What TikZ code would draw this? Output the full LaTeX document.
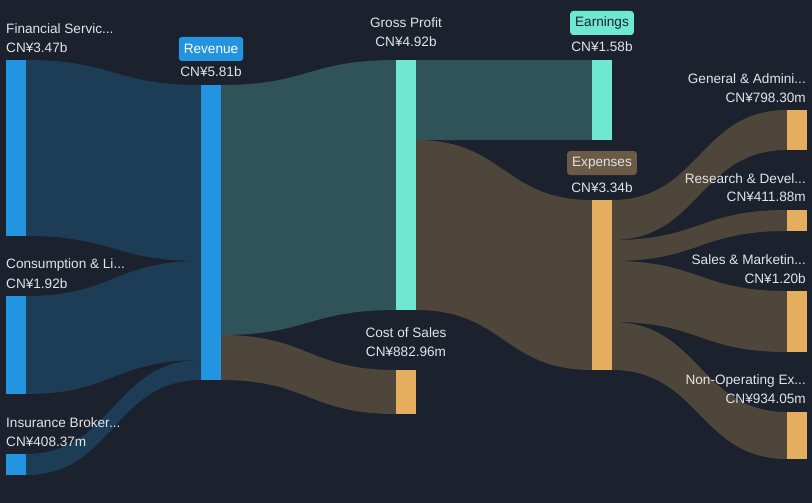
\documentclass[tikz,border=0pt]{standalone}
\usepackage{fontspec}
\setmainfont{Liberation Sans}
\definecolor{bg}{HTML}{1B212D}
\definecolor{barblue}{HTML}{2394DF}
\definecolor{barteal}{HTML}{6FE8D3}
\definecolor{barorange}{HTML}{E5AE5F}
\definecolor{flowblue}{HTML}{1D3D57}
\definecolor{flowteal}{HTML}{30535A}
\definecolor{flowbrown}{HTML}{4E463B}
\definecolor{boxbrown}{HTML}{6B5A45}
\definecolor{txt}{HTML}{E2E4E8}
% one band of the sankey: colour, x1, top1, bottom1, x2, top2, bottom2
\newcommand{\flow}[7]{\fill[#1] (#2,#3) .. controls ({(#2+#5)/2},#3) and ({(#2+#5)/2},#6) .. (#5,#6)
  -- (#5,#7) .. controls ({(#2+#5)/2},#7) and ({(#2+#5)/2},#4) .. (#2,#4) -- cycle;}
\tikzset{
  bar/.style={inner sep=0, outer sep=0, minimum width=20pt},
  lbl/.style={text=txt, inner sep=0, font=\fontsize{13.6}{16}\selectfont},
  tag/.style={rounded corners=3pt, inner xsep=5pt, minimum height=24pt, font=\fontsize{13.6}{16}\selectfont},
}
\begin{document}
\begin{tikzpicture}[x=1pt, y=-1pt]
  \fill[bg] (0,0) rectangle (812,503);
  \useasboundingbox (0,0) rectangle (812,503);
  % bands
  \flow{flowblue}{26}{60}{236}{201}{85}{261}
  \flow{flowblue}{26}{296}{394}{201}{261}{360}
  \flow{flowblue}{26}{454}{475}{201}{360}{380}
  \flow{flowteal}{221}{85}{335}{396}{60}{310}
  \flow{flowbrown}{221}{335}{380}{396}{370}{414}
  \flow{flowteal}{416}{60}{140}{592}{60}{140}
  \flow{flowbrown}{416}{140}{310}{592}{200}{370}
  \flow{flowbrown}{612}{200}{240}{787}{110}{150}
  \flow{flowbrown}{612}{240}{261}{787}{210}{231}
  \flow{flowbrown}{612}{261}{322}{787}{291}{352}
  \flow{flowbrown}{612}{322}{370}{787}{412}{459}
  % bars
  \node[bar, fill=barblue, minimum height=176pt] (fin) at (16,148) {};
  \node[bar, fill=barblue, minimum height=98pt] (cons) at (16,345) {};
  \node[bar, fill=barblue, minimum height=21pt] (ins) at (16,464.5) {};
  \node[bar, fill=barblue, minimum height=295pt] (rev) at (211,232.5) {};
  \node[bar, fill=barteal, minimum height=250pt] (gp) at (406,185) {};
  \node[bar, fill=barorange, minimum height=44pt] (cos) at (406,392) {};
  \node[bar, fill=barteal, minimum height=80pt] (earn) at (602,100) {};
  \node[bar, fill=barorange, minimum height=170pt] (exp) at (602,285) {};
  \node[bar, fill=barorange, minimum height=40pt] (ga) at (797,130) {};
  \node[bar, fill=barorange, minimum height=21pt] (rd) at (797,220.5) {};
  \node[bar, fill=barorange, minimum height=61pt] (sm) at (797,321.5) {};
  \node[bar, fill=barorange, minimum height=47pt] (nonop) at (797,435.5) {};
  % labels
  \node[lbl, anchor=west] (finname) at (6,29) {Financial Servic...};
  \node[lbl, anchor=west] (finval) at (6,48) {CN¥3.47b};
  \node[lbl, anchor=west] (consname) at (6,265) {Consumption \& Li...};
  \node[lbl, anchor=west] (consval) at (6,284) {CN¥1.92b};
  \node[lbl, anchor=west] (insname) at (6,423) {Insurance Broker...};
  \node[lbl, anchor=west] (insval) at (6,442) {CN¥408.37m};
  \node[tag, fill=barblue, text=white] (revname) at (211,49) {Revenue};
  \node[lbl] (revval) at (211,72) {CN¥5.81b};
  \node[lbl] (gpname) at (406,23) {Gross Profit};
  \node[lbl] (gpval) at (406,42) {CN¥4.92b};
  \node[lbl] (cosname) at (406,333) {Cost of Sales};
  \node[lbl] (cosval) at (406,352) {CN¥882.96m};
  \node[tag, fill=barteal, text=bg] (earnname) at (602,23) {Earnings};
  \node[lbl] (earnval) at (602,47) {CN¥1.58b};
  \node[tag, fill=boxbrown, text=txt] (expname) at (602,163) {Expenses};
  \node[lbl] (expval) at (602,188) {CN¥3.34b};
  \node[lbl, anchor=east] (ganame) at (806,79) {General \& Admini...};
  \node[lbl, anchor=east] (gaval) at (806,98) {CN¥798.30m};
  \node[lbl, anchor=east] (rdname) at (806,179) {Research \& Devel...};
  \node[lbl, anchor=east] (rdval) at (806,197) {CN¥411.88m};
  \node[lbl, anchor=east] (smname) at (806,260) {Sales \& Marketin...};
  \node[lbl, anchor=east] (smval) at (806,279) {CN¥1.20b};
  \node[lbl, anchor=east] (nonopname) at (806,381) {Non-Operating Ex...};
  \node[lbl, anchor=east] (nonopval) at (806,399) {CN¥934.05m};
\end{tikzpicture}
\end{document}
